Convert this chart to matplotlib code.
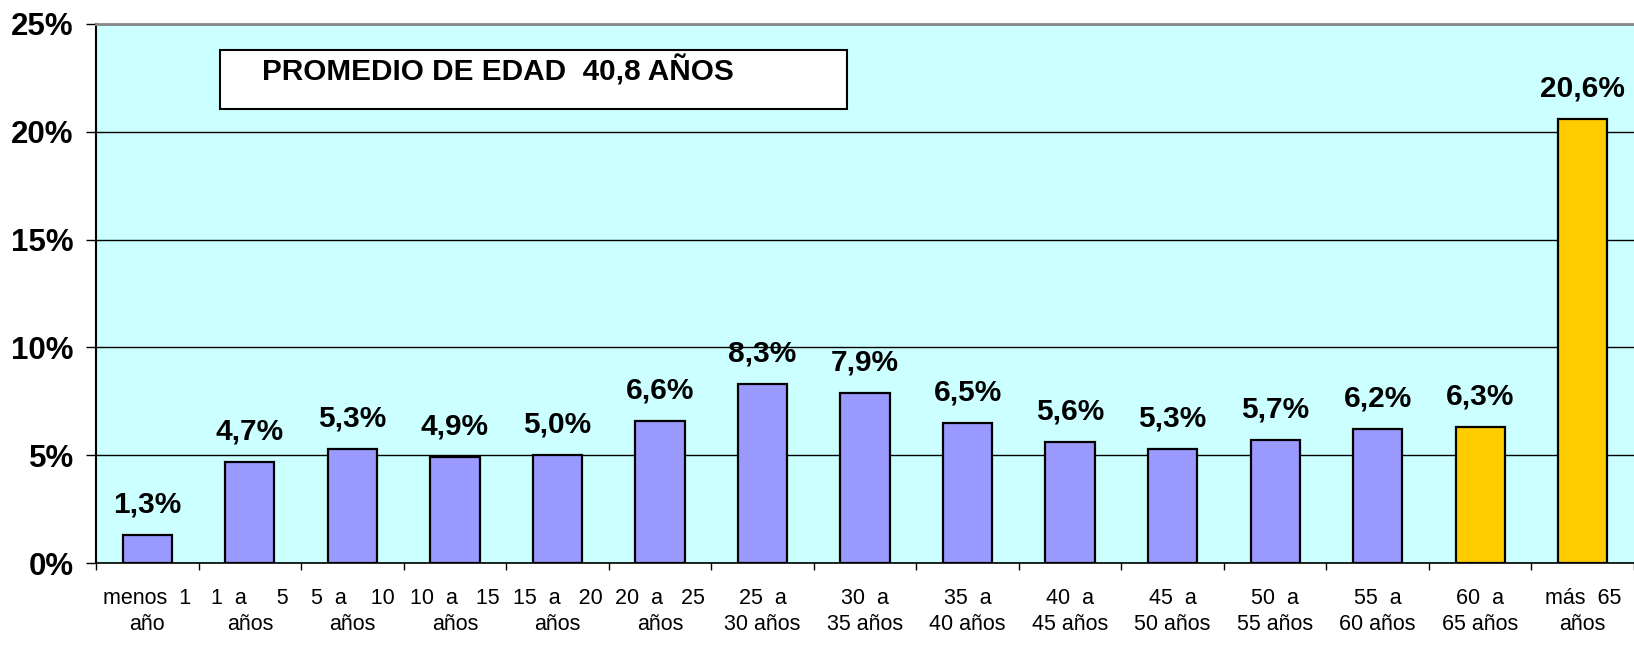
import matplotlib.pyplot as plt
from matplotlib.patches import Rectangle

categories = ['menos  1\naño', '1  a     5\naños', '5  a    10\naños', '10  a   15\naños',
              '15  a   20\naños', '20  a   25\naños', '25  a\n30 años', '30  a\n35 años',
              '35  a\n40 años', '40  a\n45 años', '45  a\n50 años', '50  a\n55 años',
              '55  a\n60 años', '60  a\n65 años', 'más  65\naños']
values = [1.3, 4.7, 5.3, 4.9, 5.0, 6.6, 8.3, 7.9, 6.5, 5.6, 5.3, 5.7, 6.2, 6.3, 20.6]
yticks = [0, 5, 10, 15, 20, 25]
title_text = 'PROMEDIO DE EDAD  40,8 AÑOS'

colors = ['#9999FF'] * 13 + ['#FFCC00'] * 2

plt.rcParams['font.family'] = ['Liberation Sans', 'DejaVu Sans']

fig = plt.figure(figsize=(16.34, 6.61), dpi=100)
ax = fig.add_axes([0.0588, 0.148, 0.9412, 0.816])
ax.set_facecolor('#CCFFFF')

x = list(range(len(categories)))
ax.bar(x, values, width=0.48, color=colors, edgecolor='black', linewidth=1.6, zorder=3)

# value labels
for xi, v in zip(x, values):
    ax.annotate(f'{v:.1f}'.replace('.', ',') + '%', (xi, v), xytext=(0, 12),
                textcoords='offset points', ha='center', va='bottom',
                fontsize=21.5, fontweight='bold', zorder=4)

ax.set_xlim(-0.5, len(categories) - 0.5)
ax.set_ylim(0, 25)
ax.set_yticks(yticks)
ax.set_yticklabels([f'{t}%' for t in yticks], fontsize=22.5, fontweight='bold')
ax.yaxis.grid(True, color='black', linewidth=1, zorder=0)
ax.set_axisbelow(True)

# category labels at centers, tick marks at boundaries
ax.set_xticks(x)
ax.set_xticklabels(categories, fontsize=15.5, linespacing=1.3)
ax.tick_params(axis='x', which='major', length=0, pad=18)
ax.set_xticks([i - 0.5 for i in range(len(categories) + 1)], minor=True)
ax.tick_params(axis='x', which='minor', length=5, width=1, direction='out')
ax.tick_params(axis='y', length=7, width=1, pad=9)

ax.spines['right'].set_visible(False)
ax.spines['top'].set_color('#888888')
ax.spines['top'].set_linewidth(2)
ax.spines['left'].set_linewidth(1.5)
ax.spines['bottom'].set_linewidth(1.2)

# text box
ax.add_patch(Rectangle((0.71, 21.06), 6.115, 2.73, facecolor='white', edgecolor='black',
                       linewidth=1.5, zorder=5))
ax.text(1.12, 22.8, title_text, fontsize=21.4, fontweight='bold', va='center', ha='left', zorder=6)

plt.savefig('out.png')
